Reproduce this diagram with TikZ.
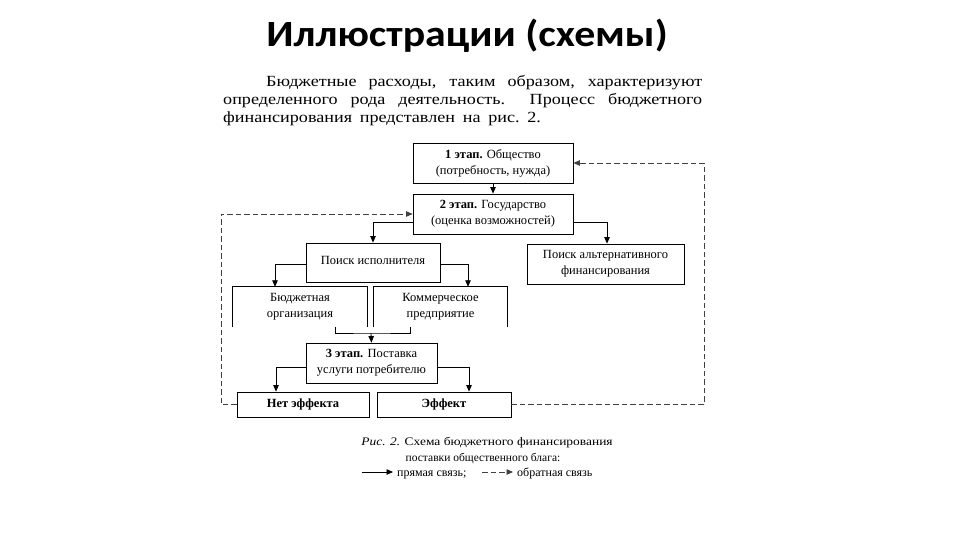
\documentclass[tikz,border=0pt]{standalone}
\usepackage{fontspec}
\setmainfont{Liberation Serif}
\newfontfamily\titlefont[FakeStretch=1.13]{Carlito}
\newfontfamily\parafont[FakeStretch=1.17]{Liberation Serif}
\newfontfamily\capwide[FakeStretch=1.17]{Liberation Serif}
\usetikzlibrary{arrows.meta,calc}
\begin{document}
\begin{tikzpicture}[x=1pt,y=-1pt,
  box/.style={draw=black, line width=0.8pt, fill=white, inner sep=0pt, align=center,
    font=\fontsize{12.5}{16}\selectfont},
  openbox/.style={inner sep=0pt, align=center, font=\fontsize{12.5}{16}\selectfont},
  edge/.style={line width=0.8pt, draw=black},
  arr/.style={edge, -{Triangle[length=6.5pt,width=5.5pt]}},
  fb/.style={line width=0.8pt, draw=black!75, dash pattern=on 5.5pt off 3pt, -{Triangle[length=6.5pt,width=5.5pt]}},
  captext/.style={inner sep=0pt, font=\fontsize{11.5}{15}\selectfont}]
\useasboundingbox (0,0) rectangle (960,540);
\fill[white] (0,0) rectangle (960,540);

% title
\node[anchor=base, inner sep=0pt, font=\titlefont\bfseries\fontsize{37}{40}\selectfont] (title) at (467,47) {Иллюстрации (схемы)};

% paragraph
\node[anchor=base west, inner sep=0pt] (para) at (223,87) {\parbox[t]{479pt}{\parafont\fontsize{15.5}{18}\selectfont
\spaceskip=0.5em plus 2em minus 0.1em
\hspace*{43pt}Бюджетные расходы, таким образом, характеризуют\linebreak
определенного рода деятельность. Процесс бюджетного\linebreak
финансирования представлен на рис.~2.}};

% boxes
\node[box, minimum width=160pt, minimum height=40pt] (b1) at (493,163) {\textbf{1 этап.} Общество\\(потребность, нужда)};
\node[box, minimum width=160pt, minimum height=40pt] (b2) at (493,214) {\textbf{2 этап.} Государство\\(оценка возможностей)};
\node[box, minimum width=134pt, minimum height=39pt] (search) at (373,262.5) {\raisebox{4pt}{Поиск исполнителя}};
\node[box, minimum width=157pt, minimum height=40pt] (alt) at (605.5,264) {Поиск альтернативного\\финансирования};
\node[openbox, minimum width=134pt, minimum height=40pt] (bud) at (300,307) {Бюджетная\\организация};
\node[openbox, minimum width=133pt, minimum height=40pt] (com) at (440.5,307) {Коммерческое\\предприятие};
\node[box, minimum width=131pt, minimum height=40pt] (st3) at (371.5,363) {\textbf{3 этап.} Поставка\\услуги потребителю};
\node[box, minimum width=132pt, minimum height=25pt] (no) at (303,404.5) {\textbf{Нет эффекта}};
\node[box, minimum width=134pt, minimum height=25pt] (eff) at (444,404.5) {\textbf{Эффект}};

\draw[edge] (bud.south west) -- (bud.north west) -- (bud.north east) -- (bud.south east);
\draw[edge] (com.south west) -- (com.north west) -- (com.north east) -- (com.south east);

% connectors
\draw[arr] (b1.south) -- (b2.north);
\draw[arr] ([yshift=-8pt]b2.west) -| (search.north);
\draw[arr] ([yshift=-8pt]b2.east) -| ([xshift=1.5pt]alt.north);
\draw[arr] ([yshift=-1.5pt]search.west) -| ([xshift=-25pt]bud.north);
\draw[arr] ([yshift=-1.5pt]search.east) -| ([xshift=27.5pt]com.north);
\coordinate (j) at (371,333);
\draw[edge] ([xshift=35pt]bud.south) |- (j) -| ([xshift=-30.5pt]com.south);
\draw[arr] (j) -- (st3.north);
\draw[arr] ([yshift=-4pt]st3.west) -| ([xshift=-27pt]no.north);
\draw[arr] ([yshift=-4pt]st3.east) -| ([xshift=25pt]eff.north);

% feedback
\coordinate (cl) at (221,0);
\coordinate (cr) at (704,0);
\draw[fb] (no.west) -- (no.west -| cl) -- (cl |- b2.west) -- (b2.west);
\draw[fb] (eff.east) -- (eff.east -| cr) -- (cr |- b1.east) -- (b1.east);

% caption
\node[anchor=base, captext, font=\capwide\fontsize{11.5}{15}\selectfont] (cap1) at (487,445) {\textit{Рис. 2.} Схема бюджетного финансирования};
\node[anchor=base, captext] (cap2) at (483,461) {поставки общественного блага:};
\coordinate (l1) at (362,472);
\coordinate (l2) at (393,472);
\coordinate (l3) at (482,472);
\coordinate (l4) at (513,472);
\draw[arr] (l1) -- (l2);
\draw[fb] (l3) -- (l4);
\node[anchor=base west, captext, font=\fontsize{12}{15}\selectfont] (leg1) at (397,476) {прямая связь;};
\node[anchor=base west, captext, font=\fontsize{12}{15}\selectfont] (leg2) at (517,476) {обратная связь};
\end{tikzpicture}
\end{document}
